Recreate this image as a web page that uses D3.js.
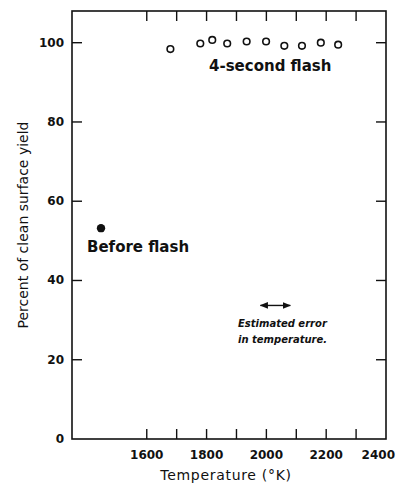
<!DOCTYPE html>
<html lang="en">
<head>
<meta charset="UTF-8">
<title>Clean surface yield vs temperature</title>
<script src="https://d3js.org/d3.v7.min.js"></script>
<style>
  body { margin: 0; background: #fff; }
  svg text { font-family: "DejaVu Sans", sans-serif; fill: #111; }
</style>
</head>
<body>
<div id="chart"></div>
<script>
// data
const flashTemps = [1679, 1779, 1819, 1869, 1934, 1999, 2060, 2119, 2182, 2240];
const flashYield = [98.4, 99.8, 100.7, 99.8, 100.3, 100.3, 99.2, 99.2, 100.0, 99.5];
const beforeTemps = [1447];
const beforeYield = [53.2];
const xTickMarks = [1600, 1700, 1800, 1900, 2000, 2100, 2200, 2300];
const xTickLabels = [1600, 1800, 2000, 2200, 2400];
const yTickMarks = [20, 40, 60, 80, 100];
const yTickLabels = [0, 20, 40, 60, 80, 100];
const errorBar = [1980, 2080]; // +-50 K, drawn at y ~ 33.7

const W = 396, H = 483;
const m = { left: 72, right: 10, top: 11, bottom: 44 };

const svg = d3.select("#chart").append("svg")
  .attr("width", W).attr("height", H);

const x = d3.scaleLinear().domain([1350, 2400]).range([m.left, W - m.right]);
const y = d3.scaleLinear().domain([0, 108]).range([H - m.bottom, m.top]);

// frame
svg.append("rect")
  .attr("x", x(1350)).attr("y", y(108))
  .attr("width", x(2400) - x(1350)).attr("height", y(0) - y(108))
  .attr("fill", "none").attr("stroke", "#111").attr("stroke-width", 1.6);

// inward ticks on all four sides
const tk = 10;
const g = svg.append("g").attr("stroke", "#111").attr("stroke-width", 1.4);
xTickMarks.forEach(v => {
  g.append("line").attr("x1", x(v)).attr("x2", x(v)).attr("y1", y(0)).attr("y2", y(0) - tk);
  g.append("line").attr("x1", x(v)).attr("x2", x(v)).attr("y1", y(108)).attr("y2", y(108) + tk);
});
yTickMarks.forEach(v => {
  g.append("line").attr("x1", x(1350)).attr("x2", x(1350) + tk).attr("y1", y(v)).attr("y2", y(v));
  g.append("line").attr("x1", x(2400)).attr("x2", x(2400) - tk).attr("y1", y(v)).attr("y2", y(v));
});

// tick labels (last one pulled in so it stays inside the page)
svg.selectAll(".xl").data(xTickLabels).enter().append("text")
  .attr("x", d => d === 2400 ? W - 1 : x(d)).attr("y", y(0) + 20)
  .attr("text-anchor", d => d === 2400 ? "end" : "middle")
  .style("font-size", "12px").style("font-weight", "bold")
  .text(d => d);

svg.selectAll(".yl").data(yTickLabels).enter().append("text")
  .attr("x", x(1350) - 8).attr("y", d => y(d) + 4)
  .attr("text-anchor", "end")
  .style("font-size", "12px").style("font-weight", "bold")
  .text(d => d);

// axis titles
svg.append("text")
  .attr("x", 226).attr("y", 480)
  .attr("text-anchor", "middle")
  .style("font-size", "14px").style("letter-spacing", "0.7px")
  .text("Temperature (°K)");

svg.append("text")
  .attr("transform", `translate(28, ${y(54)}) rotate(-90)`)
  .attr("text-anchor", "middle")
  .style("font-size", "14px")
  .text("Percent of clean surface yield");

// points
svg.selectAll(".flash").data(flashTemps).enter().append("circle")
  .attr("cx", d => x(d)).attr("cy", (d, i) => y(flashYield[i]))
  .attr("r", 3.3).attr("fill", "none").attr("stroke", "#111").attr("stroke-width", 1.6);

svg.selectAll(".before").data(beforeTemps).enter().append("circle")
  .attr("cx", d => x(d)).attr("cy", (d, i) => y(beforeYield[i]))
  .attr("r", 4.2).attr("fill", "#111");

// annotations
svg.append("text")
  .attr("x", 209).attr("y", 71)
  .style("font-size", "15px").style("font-weight", "bold")
  .text("4-second flash");

svg.append("text")
  .attr("x", 87).attr("y", 252)
  .style("font-size", "15px").style("font-weight", "bold")
  .text("Before flash");

// estimated error arrow
const ey = y(33.7);
const defs = svg.append("defs");
["s", "e"].forEach(k => {
  defs.append("marker").attr("id", "ar-" + k)
    .attr("viewBox", "0 0 10 10").attr("refX", 9).attr("refY", 5)
    .attr("markerWidth", 6).attr("markerHeight", 6)
    .attr("orient", k === "s" ? "auto-start-reverse" : "auto")
    .append("path").attr("d", "M0,1L10,5L0,9Z").attr("fill", "#111");
});
svg.append("line")
  .attr("x1", x(errorBar[0])).attr("x2", x(errorBar[1]))
  .attr("y1", ey).attr("y2", ey)
  .attr("stroke", "#111").attr("stroke-width", 1.4)
  .attr("marker-start", "url(#ar-s)").attr("marker-end", "url(#ar-e)");

svg.append("text")
  .attr("x", 238).attr("y", 327)
  .style("font-size", "10px").style("font-style", "italic").style("font-weight", "bold")
  .text("Estimated error");
svg.append("text")
  .attr("x", 238).attr("y", 343)
  .style("font-size", "10px").style("font-style", "italic").style("font-weight", "bold")
  .text("in temperature.");
</script>
</body>
</html>
